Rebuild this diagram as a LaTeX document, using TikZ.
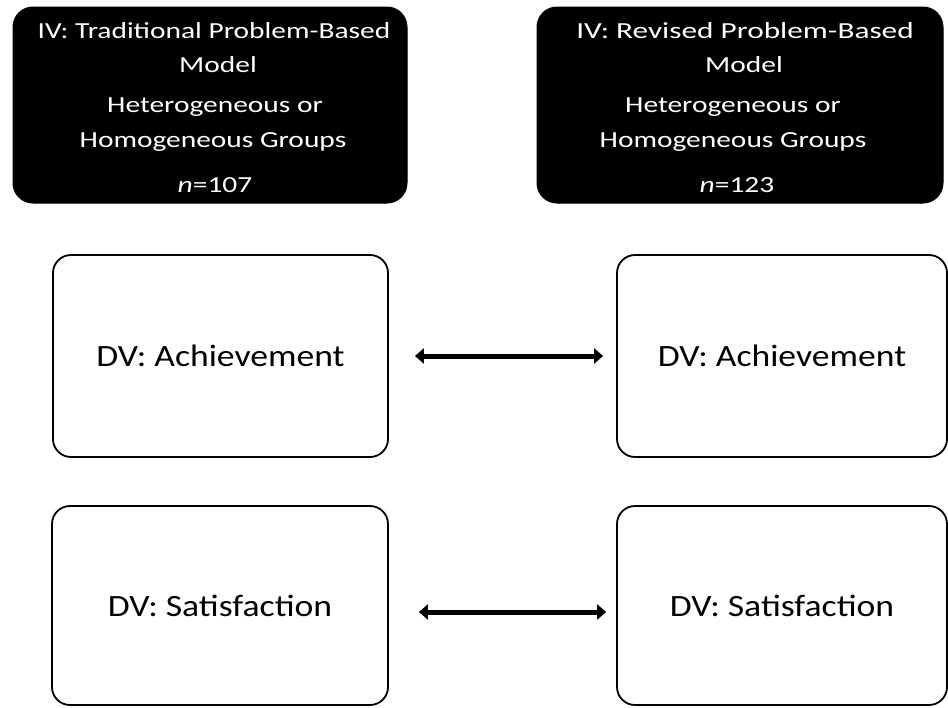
\documentclass[tikz,border=0pt]{standalone}
\usepackage{fontspec}
\setmainfont{Carlito}
\newfontfamily\ivfont[FakeStretch=1.28]{Carlito}
\newfontfamily\ivwidefont[FakeStretch=1.36]{Carlito}
\newfontfamily\dvfont[FakeStretch=1.15]{Carlito}
\usetikzlibrary{arrows.meta,calc}
\begin{document}
\begin{tikzpicture}[x=1pt,y=-1pt,
  ivbox/.style={draw=black,fill=black,rounded corners=20pt,line width=1pt},
  ivtext/.style={text=white,font=\ivfont\fontsize{23}{28}\selectfont,anchor=base,inner sep=0pt},
  dvbox/.style={draw=black,line width=1.8pt,rounded corners=18pt,font=\dvfont\fontsize{31}{37}\selectfont},
  linkarrow/.style={line width=5pt,{Triangle[length=9pt,width=15pt]}-{Triangle[length=9pt,width=15pt]}}
]
\useasboundingbox (0,0) rectangle (948,707);

% independent variable boxes
\draw[ivbox] (13,7) rectangle (407,203);
\draw[ivbox] (537,7) rectangle (943,203);
\coordinate (ivL) at (215,0);
\coordinate (ivR) at (744,0);

\node[ivtext] (l1) at ($(ivL)+(-1,38)$) {IV: Traditional Problem-Based};
\node[ivtext] (l2) at ($(ivL)+(3,72)$) {Model};
\node[ivtext] (l3) at ($(ivL)+(0,112)$) {Heterogeneous or};
\node[ivtext] (l4) at ($(ivL)+(-2,147)$) {Homogeneous Groups};
\node[ivtext] (l5) at ($(ivL)+(0,192)$) {\itshape n\upshape=107};

\node[ivtext,font=\ivwidefont\fontsize{23}{28}\selectfont] (r1) at ($(ivR)+(1,38)$) {IV: Revised Problem-Based};
\node[ivtext] (r2) at ($(ivR)+(0,72)$) {Model};
\node[ivtext] (r3) at ($(ivR)+(-11,112)$) {Heterogeneous or};
\node[ivtext] (r4) at ($(ivR)+(-11,147)$) {Homogeneous Groups};
\node[ivtext] (r5) at ($(ivR)+(-7,192)$) {\itshape n\upshape=123};

% dependent variable boxes
\node[dvbox,minimum width=335pt,minimum height=202pt] (aL) at (220.5,356) {DV: Achievement};
\node[dvbox,minimum width=330pt,minimum height=202pt] (aR) at (782,356) {DV: Achievement};
\node[dvbox,minimum width=336pt,minimum height=199pt] (sL) at (220,605.5) {DV: Satisfaction};
\node[dvbox,minimum width=330pt,minimum height=199pt] (sR) at (782,605.5) {DV: Satisfaction};

% comparisons between the two models
\draw[linkarrow] ($(aL.east)+(26,0)$) -- ($(aR.west)+(-13,0)$);
\draw[linkarrow] ($(sL.east)+(30,6.5)$) -- ($(sR.west)+(-10,6.5)$);
\end{tikzpicture}
\end{document}
